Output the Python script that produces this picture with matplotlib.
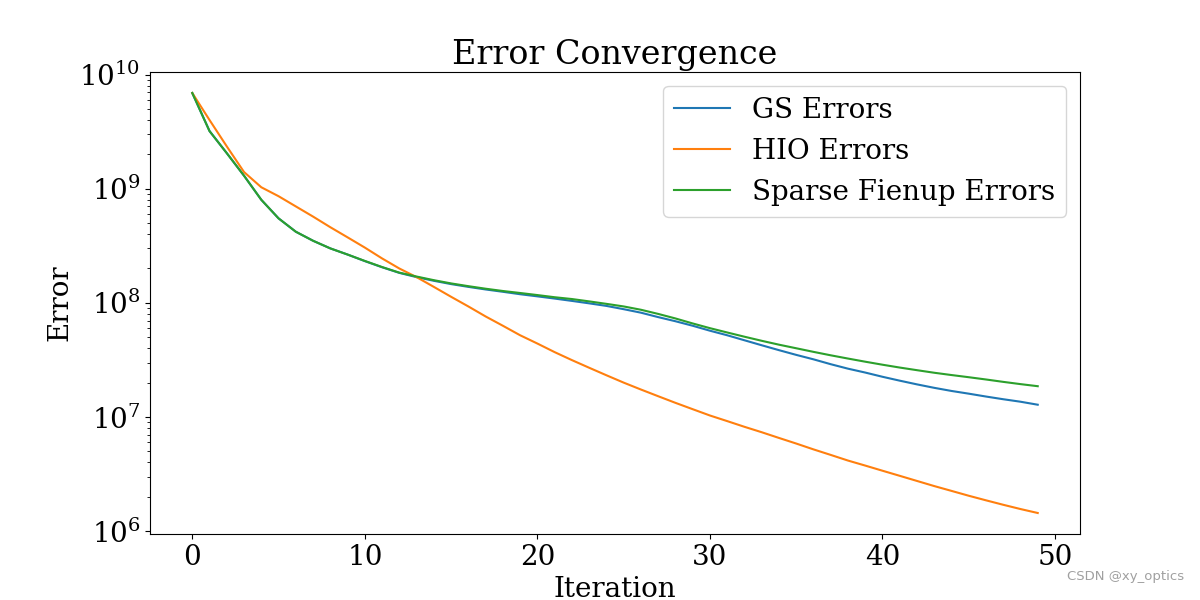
import numpy as np
import matplotlib.pyplot as plt

plt.rcParams['font.family'] = 'serif'
plt.rcParams['font.serif'] = ['DejaVu Serif']
plt.rcParams['font.size'] = 20

# values
iterations = np.arange(50)

gs_errors = [6.9e9, 3.2e9, 2.05e9, 1.3e9, 8.0e8, 5.5e8, 4.2e8, 3.5e8, 3.0e8, 2.65e8,
             2.32e8, 2.05e8, 1.83e8, 1.68e8, 1.56e8, 1.46e8, 1.38e8, 1.31e8, 1.25e8, 1.19e8,
             1.14e8, 1.09e8, 1.04e8, 9.9e7, 9.4e7, 8.8e7, 8.2e7, 7.5e7, 6.9e7, 6.3e7,
             5.7e7, 5.2e7, 4.7e7, 4.25e7, 3.85e7, 3.5e7, 3.2e7, 2.9e7, 2.65e7, 2.45e7,
             2.25e7, 2.08e7, 1.93e7, 1.8e7, 1.69e7, 1.6e7, 1.51e7, 1.43e7, 1.36e7, 1.28e7]

hio_errors = [6.9e9, 4.0e9, 2.35e9, 1.4e9, 1.03e9, 8.6e8, 7.0e8, 5.7e8, 4.6e8, 3.75e8,
              3.05e8, 2.45e8, 2.0e8, 1.68e8, 1.38e8, 1.13e8, 9.3e7, 7.6e7, 6.3e7, 5.2e7,
              4.4e7, 3.7e7, 3.15e7, 2.7e7, 2.32e7, 2.0e7, 1.74e7, 1.52e7, 1.33e7, 1.17e7,
              1.03e7, 9.2e6, 8.2e6, 7.35e6, 6.55e6, 5.85e6, 5.2e6, 4.65e6, 4.15e6, 3.75e6,
              3.38e6, 3.05e6, 2.75e6, 2.48e6, 2.25e6, 2.04e6, 1.86e6, 1.7e6, 1.56e6, 1.44e6]

sparse_errors = [6.9e9, 3.2e9, 2.05e9, 1.3e9, 8.0e8, 5.5e8, 4.2e8, 3.5e8, 3.0e8, 2.65e8,
                 2.33e8, 2.06e8, 1.84e8, 1.7e8, 1.58e8, 1.48e8, 1.4e8, 1.33e8, 1.27e8, 1.22e8,
                 1.17e8, 1.12e8, 1.08e8, 1.03e8, 9.8e7, 9.3e7, 8.7e7, 8.0e7, 7.3e7, 6.6e7,
                 6.0e7, 5.5e7, 5.05e7, 4.65e7, 4.3e7, 4.0e7, 3.72e7, 3.47e7, 3.25e7, 3.05e7,
                 2.87e7, 2.71e7, 2.57e7, 2.44e7, 2.33e7, 2.23e7, 2.13e7, 2.03e7, 1.94e7, 1.86e7]

fig = plt.figure(figsize=(12, 6), dpi=100)
plt.plot(iterations, gs_errors, label='GS Errors')
plt.plot(iterations, hio_errors, label='HIO Errors')
plt.plot(iterations, sparse_errors, label='Sparse Fienup Errors')
plt.yscale('log')
plt.xlabel('Iteration')
plt.ylabel('Error')
plt.title('Error Convergence', fontsize=24)
plt.legend()

# watermark
fig.text(0.987, 0.028, 'CSDN @xy_optics', ha='right', va='bottom',
         fontsize=9.5, color='#a0a0a0', family='DejaVu Sans')

plt.savefig('out.png', dpi=100)
